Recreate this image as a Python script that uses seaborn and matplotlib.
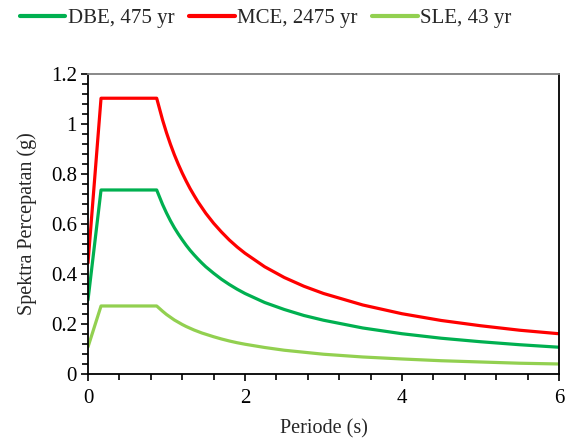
import matplotlib
matplotlib.use("Agg")
import matplotlib.pyplot as plt
from matplotlib.ticker import FuncFormatter, MultipleLocator
import pandas as pd
import seaborn as sns

# Design response spectra: period (s) vs spectral acceleration (g)
period = [0.0, 0.166, 0.875, 0.95, 1.0, 1.05, 1.1, 1.15, 1.2, 1.25, 1.3, 1.35,
          1.4, 1.45, 1.5, 1.6, 1.7, 1.8, 1.9, 2.0, 2.25, 2.5, 2.75, 3.0, 3.5,
          4.0, 4.5, 5.0, 5.5, 6.0]
dbe = [0.296, 0.736, 0.736, 0.678, 0.644, 0.613, 0.585, 0.560, 0.537, 0.515,
       0.495, 0.477, 0.460, 0.444, 0.429, 0.403, 0.379, 0.358, 0.339, 0.322,
       0.286, 0.258, 0.234, 0.215, 0.184, 0.161, 0.143, 0.129, 0.117, 0.107]
mce = [0.444, 1.103, 1.103, 1.016, 0.965, 0.919, 0.877, 0.839, 0.804, 0.772,
       0.742, 0.715, 0.689, 0.666, 0.643, 0.603, 0.568, 0.536, 0.508, 0.483,
       0.429, 0.386, 0.351, 0.322, 0.276, 0.241, 0.214, 0.193, 0.175, 0.161]
sle = [0.108, 0.272, 0.272, 0.251, 0.238, 0.227, 0.216, 0.207, 0.198, 0.190,
       0.183, 0.176, 0.170, 0.164, 0.159, 0.149, 0.140, 0.132, 0.125, 0.119,
       0.106, 0.095, 0.087, 0.079, 0.068, 0.060, 0.053, 0.048, 0.043, 0.040]
series_names = ["DBE, 475 yr", "MCE, 2475 yr", "SLE, 43 yr"]
colors = ["#00B050", "#FF0000", "#92D050"]

frames = []
for name, vals in zip(series_names, [dbe, mce, sle]):
    frames.append(pd.DataFrame({"Periode": period, "Sa": vals, "Level": name}))
df = pd.concat(frames, ignore_index=True)

sns.set_theme(style="white")
plt.rcParams["font.family"] = ["Liberation Serif", "DejaVu Serif"]

fig = plt.figure(figsize=(5.67, 4.43), dpi=100)
ax = fig.add_axes([0.1552, 0.1558, 0.8307, 0.6772])

sns.lineplot(data=df, x="Periode", y="Sa", hue="Level", hue_order=series_names,
             palette=colors, linewidth=2.3, sort=False, legend=False, ax=ax)
for line in ax.get_lines():
    line.set_solid_joinstyle("round")

ax.set_xlim(0, 6)
ax.set_ylim(0, 1.2)
ax.xaxis.set_major_locator(MultipleLocator(2))
ax.xaxis.set_minor_locator(MultipleLocator(0.4))
ax.yaxis.set_major_locator(MultipleLocator(0.2))
ax.yaxis.set_minor_locator(MultipleLocator(0.04))
fmt = FuncFormatter(lambda v, p: f"{v:g}")
ax.xaxis.set_major_formatter(fmt)
ax.yaxis.set_major_formatter(fmt)

ax.tick_params(axis="both", which="both", direction="out", colors="black",
               labelsize=15, width=1.2)
ax.tick_params(axis="both", which="major", length=5, pad=3)
ax.tick_params(axis="both", which="minor", length=4)
ax.tick_params(axis="x", which="major", pad=6)
ax.tick_params(left=True, bottom=True, which="both")

for side in ["left", "bottom", "right"]:
    ax.spines[side].set_color("black")
    ax.spines[side].set_linewidth(1.3)
ax.spines["top"].set_color("#7f7f7f")
ax.spines["top"].set_linewidth(1.3)

ax.set_xlabel("Periode (s)", fontsize=14.5, labelpad=8)
ax.set_ylabel("Spektra Percepatan (g)", fontsize=14.5, labelpad=10)

handles = [plt.Line2D([], [], color=c, linewidth=3) for c in colors]
fig.legend(handles, series_names, loc="center", bbox_to_anchor=(0.468, 0.959),
           ncol=3, frameon=False, fontsize=15, handlelength=2.2,
           handletextpad=0.1, columnspacing=0.7)

fig.savefig("out.png", dpi=100)
